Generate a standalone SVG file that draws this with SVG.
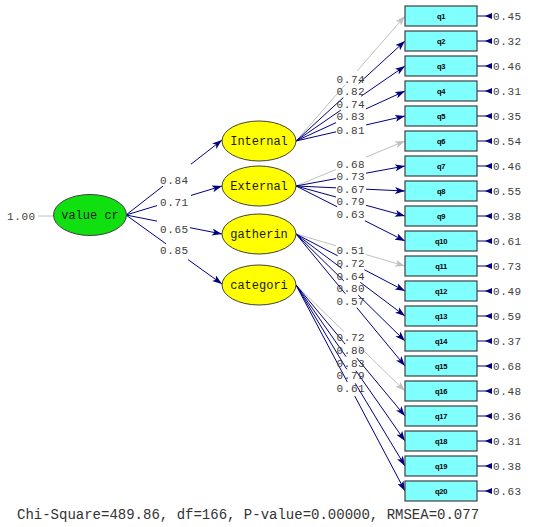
<svg xmlns="http://www.w3.org/2000/svg" width="539" height="527" viewBox="0 0 539 527">
<style>
.bg{fill:#ffffff}
.box{fill:#80ffff;stroke:#404040;stroke-width:1.2}
.lat{fill:#ffff00;stroke:#404040;stroke-width:1}
.exo{fill:#10e010;stroke:#404040;stroke-width:1}
.ln{fill:none;stroke:#000080;stroke-width:1}
.lg{fill:none;stroke:#c0c0c0;stroke-width:1}
.num{font-family:"Liberation Mono","Courier New",monospace;font-size:11px;letter-spacing:0.6px;fill:#404040}
.nm{font-family:"Liberation Mono","Courier New",monospace;font-size:12px;fill:#1a1a1a;text-anchor:middle}
.bl{font-family:"Liberation Sans",Arial,sans-serif;font-size:7.5px;font-weight:bold;letter-spacing:-0.3px;fill:#000000;text-anchor:middle}
.ft{font-family:"Liberation Mono","Courier New",monospace;font-size:14px;fill:#333333}
.eh{fill:#000080}
</style>
<defs>
<marker id="ah" markerUnits="userSpaceOnUse" markerWidth="10" markerHeight="7" refX="10" refY="3.5" orient="auto"><path d="M0,0 L10,3.5 L0,7 L2.5,3.5 Z" fill="#000080"/></marker>
<marker id="ahg" markerUnits="userSpaceOnUse" markerWidth="10" markerHeight="7" refX="10" refY="3.5" orient="auto"><path d="M0,0 L10,3.5 L0,7 L2.5,3.5 Z" fill="#c0c0c0"/></marker>
</defs>
<rect class="bg" x="0" y="0" width="539" height="527"/>
<g id="connectors">
<line class="lg" x1="38" y1="216" x2="53" y2="216"/>
<path class="ln" marker-end="url(#ah)" d="M126,215 L163,186.1 M191,164.2 L222,140"/>
<path class="ln" marker-end="url(#ah)" d="M126,215 L157,205.6 M191,195.4 L222,186"/>
<path class="ln" marker-end="url(#ah)" d="M126,215 L157,221.1 M190,227.7 L222,234"/>
<path class="ln" marker-end="url(#ah)" d="M126,215 L166,243.8 M188,259.6 L222,284"/>
<path class="lg" marker-end="url(#ahg)" d="M296,141 L344.9,84.92 M357.1,70.93 L405,16"/>
<path class="ln" marker-end="url(#ah)" d="M296,141 L343.37,97.54 M358.63,83.54 L405,41"/>
<path class="ln" marker-end="url(#ah)" d="M296,141 L340.83,110.15 M361.17,96.16 L405,66"/>
<path class="ln" marker-end="url(#ah)" d="M296,141 L336,122.65 M366,108.89 L405,91"/>
<path class="ln" marker-end="url(#ah)" d="M296,141 L336,131.83 M366,124.94 L405,116"/>
<path class="lg" marker-end="url(#ahg)" d="M296,186 L336,169.49 M366,157.10 L405,141"/>
<path class="ln" marker-end="url(#ah)" d="M296,186 L336,178.66 M366,173.16 L405,166"/>
<path class="ln" marker-end="url(#ah)" d="M296,186 L336,187.83 M366,189.21 L405,191"/>
<path class="ln" marker-end="url(#ah)" d="M296,186 L336,197.01 M366,205.27 L405,216"/>
<path class="ln" marker-end="url(#ah)" d="M296,186 L337.13,206.75 M364.87,220.75 L405,241"/>
<path class="lg" marker-end="url(#ahg)" d="M296,234 L336,245.74 M366,254.55 L405,266"/>
<path class="ln" marker-end="url(#ah)" d="M296,234 L337.61,255.76 M364.39,269.76 L405,291"/>
<path class="ln" marker-end="url(#ah)" d="M296,234 L341.7,268.38 M360.3,282.37 L405,316"/>
<path class="ln" marker-end="url(#ah)" d="M296,234 L343.87,280.99 M358.13,294.99 L405,341"/>
<path class="ln" marker-end="url(#ah)" d="M296,234 L345.22,293.61 M356.78,307.60 L405,366"/>
<path class="lg" marker-end="url(#ahg)" d="M296,285 L343.8,331.49 M358.2,345.49 L405,391"/>
<path class="ln" marker-end="url(#ah)" d="M296,285 L345.18,344.10 M356.82,358.09 L405,416"/>
<path class="ln" marker-end="url(#ah)" d="M296,285 L346.11,356.72 M355.89,370.71 L405,441"/>
<path class="ln" marker-end="url(#ah)" d="M296,285 L346.78,369.32 M355.22,383.34 L405,466"/>
<path class="ln" marker-end="url(#ah)" d="M296,285 L347.3,381.95 M354.7,395.94 L405,491"/>
<g id="errors">
<path class="ln" d="M477,16 H492 M477,41 H492 M477,66 H492 M477,91 H492 M477,116 H492 M477,141 H492 M477,166 H492 M477,191 H492 M477,216 H492 M477,241 H492 M477,266 H492 M477,291 H492 M477,316 H492 M477,341 H492 M477,366 H492 M477,391 H492 M477,416 H492 M477,441 H492 M477,466 H492 M477,491 H492"/>
<path class="eh" d="M485,16 l7,-3 v6 Z M485,41 l7,-3 v6 Z M485,66 l7,-3 v6 Z M485,91 l7,-3 v6 Z M485,116 l7,-3 v6 Z M485,141 l7,-3 v6 Z M485,166 l7,-3 v6 Z M485,191 l7,-3 v6 Z M485,216 l7,-3 v6 Z M485,241 l7,-3 v6 Z M485,266 l7,-3 v6 Z M485,291 l7,-3 v6 Z M485,316 l7,-3 v6 Z M485,341 l7,-3 v6 Z M485,366 l7,-3 v6 Z M485,391 l7,-3 v6 Z M485,416 l7,-3 v6 Z M485,441 l7,-3 v6 Z M485,466 l7,-3 v6 Z M485,491 l7,-3 v6 Z"/>
</g>
<g id="path-labels">
<text class="num" x="160" y="184">0.84</text>
<text class="num" x="160" y="206">0.71</text>
<text class="num" x="160" y="233">0.65</text>
<text class="num" x="160" y="254">0.85</text>
<text class="num" x="336.5" y="82.7">0.74</text>
<text class="num" x="336.5" y="95.4">0.82</text>
<text class="num" x="336.5" y="107.7">0.74</text>
<text class="num" x="336.5" y="120.4">0.83</text>
<text class="num" x="336.5" y="133.7">0.81</text>
<text class="num" x="336.5" y="168">0.68</text>
<text class="num" x="336.5" y="180.4">0.73</text>
<text class="num" x="336.5" y="193">0.67</text>
<text class="num" x="336.5" y="205.4">0.79</text>
<text class="num" x="336.5" y="218">0.63</text>
<text class="num" x="336.5" y="254.4">0.51</text>
<text class="num" x="336.5" y="267">0.72</text>
<text class="num" x="336.5" y="279.7">0.64</text>
<text class="num" x="336.5" y="292">0.80</text>
<text class="num" x="336.5" y="304.7">0.57</text>
<text class="num" x="336.5" y="341.4">0.72</text>
<text class="num" x="336.5" y="354.4">0.80</text>
<text class="num" x="336.5" y="367">0.83</text>
<text class="num" x="336.5" y="379.4">0.79</text>
<text class="num" x="336.5" y="392">0.61</text>
<text class="num" x="7" y="220">1.00</text>
</g>
</g>
<g id="value-cr"><ellipse class="exo" cx="90" cy="215" rx="36.5" ry="20.5"/><text class="nm" x="90" y="219">value cr</text></g>
<g id="internal"><ellipse class="lat" cx="259" cy="141" rx="37" ry="20"/><text class="nm" x="259" y="145">Internal</text></g>
<g id="external"><ellipse class="lat" cx="259" cy="186" rx="37" ry="20"/><text class="nm" x="259" y="190">External</text></g>
<g id="gatherin"><ellipse class="lat" cx="259" cy="234" rx="37" ry="20"/><text class="nm" x="259" y="238">gatherin</text></g>
<g id="categori"><ellipse class="lat" cx="259" cy="285" rx="37" ry="20"/><text class="nm" x="259" y="289">categori</text></g>
<g id="q1"><rect class="box" x="405" y="6" width="72" height="20"/><text class="bl" x="441" y="19">q1</text><text class="num" x="493" y="20">0.45</text></g>
<g id="q2"><rect class="box" x="405" y="31" width="72" height="20"/><text class="bl" x="441" y="44">q2</text><text class="num" x="493" y="45">0.32</text></g>
<g id="q3"><rect class="box" x="405" y="56" width="72" height="20"/><text class="bl" x="441" y="69">q3</text><text class="num" x="493" y="70">0.46</text></g>
<g id="q4"><rect class="box" x="405" y="81" width="72" height="20"/><text class="bl" x="441" y="94">q4</text><text class="num" x="493" y="95">0.31</text></g>
<g id="q5"><rect class="box" x="405" y="106" width="72" height="20"/><text class="bl" x="441" y="119">q5</text><text class="num" x="493" y="120">0.35</text></g>
<g id="q6"><rect class="box" x="405" y="131" width="72" height="20"/><text class="bl" x="441" y="144">q6</text><text class="num" x="493" y="145">0.54</text></g>
<g id="q7"><rect class="box" x="405" y="156" width="72" height="20"/><text class="bl" x="441" y="169">q7</text><text class="num" x="493" y="170">0.46</text></g>
<g id="q8"><rect class="box" x="405" y="181" width="72" height="20"/><text class="bl" x="441" y="194">q8</text><text class="num" x="493" y="195">0.55</text></g>
<g id="q9"><rect class="box" x="405" y="206" width="72" height="20"/><text class="bl" x="441" y="219">q9</text><text class="num" x="493" y="220">0.38</text></g>
<g id="q10"><rect class="box" x="405" y="231" width="72" height="20"/><text class="bl" x="441" y="244">q10</text><text class="num" x="493" y="245">0.61</text></g>
<g id="q11"><rect class="box" x="405" y="256" width="72" height="20"/><text class="bl" x="441" y="269">q11</text><text class="num" x="493" y="270">0.73</text></g>
<g id="q12"><rect class="box" x="405" y="281" width="72" height="20"/><text class="bl" x="441" y="294">q12</text><text class="num" x="493" y="295">0.49</text></g>
<g id="q13"><rect class="box" x="405" y="306" width="72" height="20"/><text class="bl" x="441" y="319">q13</text><text class="num" x="493" y="320">0.59</text></g>
<g id="q14"><rect class="box" x="405" y="331" width="72" height="20"/><text class="bl" x="441" y="344">q14</text><text class="num" x="493" y="345">0.37</text></g>
<g id="q15"><rect class="box" x="405" y="356" width="72" height="20"/><text class="bl" x="441" y="369">q15</text><text class="num" x="493" y="370">0.68</text></g>
<g id="q16"><rect class="box" x="405" y="381" width="72" height="20"/><text class="bl" x="441" y="394">q16</text><text class="num" x="493" y="395">0.48</text></g>
<g id="q17"><rect class="box" x="405" y="406" width="72" height="20"/><text class="bl" x="441" y="419">q17</text><text class="num" x="493" y="420">0.36</text></g>
<g id="q18"><rect class="box" x="405" y="431" width="72" height="20"/><text class="bl" x="441" y="444">q18</text><text class="num" x="493" y="445">0.31</text></g>
<g id="q19"><rect class="box" x="405" y="456" width="72" height="20"/><text class="bl" x="441" y="469">q19</text><text class="num" x="493" y="470">0.38</text></g>
<g id="q20"><rect class="box" x="405" y="481" width="72" height="20"/><text class="bl" x="441" y="494">q20</text><text class="num" x="493" y="495">0.63</text></g>
<text class="ft" x="17" y="519">Chi-Square=489.86, df=166, P-value=0.00000, RMSEA=0.077</text>
</svg>
